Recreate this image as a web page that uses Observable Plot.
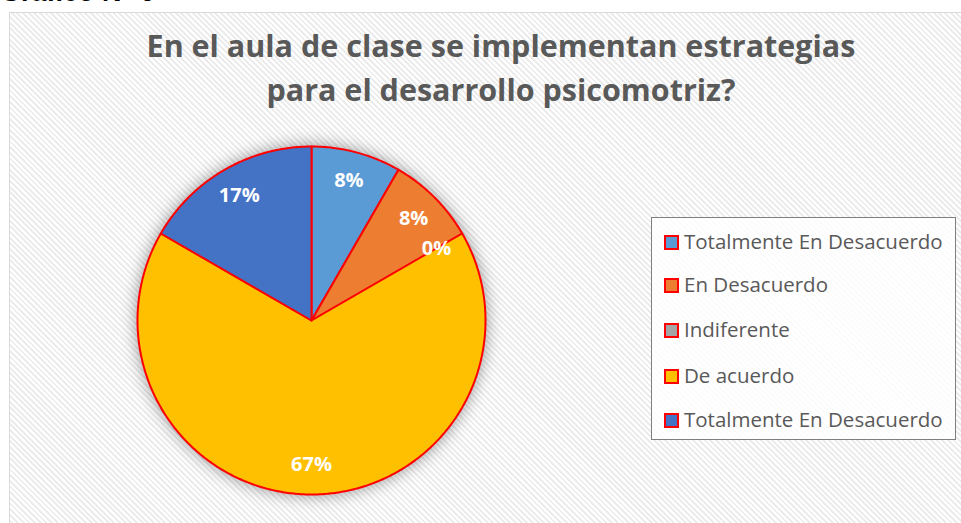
<!DOCTYPE html>
<html>
<head>
<meta charset="utf-8">
<script src="https://cdn.jsdelivr.net/npm/d3@7"></script>
<script src="https://cdn.jsdelivr.net/npm/@observablehq/plot@0.6"></script>
<style>
  body { margin: 0; background: #fff; }
  #wrap { position: relative; width: 961px; height: 523px; overflow: hidden; font-family: "Open Sans", sans-serif; }
  #frame { position: absolute; left: 9px; top: 12px; width: 980px; height: 540px; border: 1px solid #d9d9d9;
    background: repeating-linear-gradient(45deg, #ffffff 0px, #ffffff 2px, #ececec 2px, #ececec 4px); }
  #chart { position: absolute; left: 0; top: 0; }
  #top { position: absolute; left: 0; top: -23px; font: bold 27px "Liberation Sans", Arial, sans-serif; color: #000; white-space: nowrap; }
  #title { position: absolute; left: 0; width: 1002px; top: 23px; text-align: center; font-weight: 700; font-size: 30.5px; line-height: 44px; color: #595959; }
  #legend { position: absolute; left: 651px; top: 217px; width: 305px; height: 223px; border: 1.5px solid #7f7f7f; background: rgba(255,255,255,0.85); box-sizing: border-box; }
  .item { position: absolute; left: 12px; font-size: 20.5px; color: #595959; white-space: nowrap; }
  .sw { display: inline-block; width: 11px; height: 11px; border: 2px solid #ff0000; vertical-align: -1px; margin-right: 5px; }
</style>
</head>
<body>
<div id="wrap">
  <div id="frame"></div>
  <div id="top">Gráfico N° 6</div>
  <div id="chart"></div>
  <div id="title">En el aula de clase se implementan estrategias<br>para el desarrollo psicomotriz?</div>
  <div id="legend"></div>
</div>
<script>
const categories = ["Totalmente En Desacuerdo", "En Desacuerdo", "Indiferente", "De acuerdo", "Totalmente En Desacuerdo"];
const values = [1, 1, 0, 8, 2];
const labels = ["8%", "8%", "0%", "67%", "17%"];
const colors = ["#5b9bd5", "#ed7d31", "#a5a5a5", "#ffc000", "#4472c4"];

const ids = categories.map((_, i) => String(i));
const pie = d3.pie().sort(null).value(d => d)(values);

// slice polygons in unit coordinates (clockwise from top)
const pts = [];
pie.forEach((p, i) => {
  if (p.endAngle - p.startAngle <= 0) return;
  const n = Math.max(2, Math.ceil((p.endAngle - p.startAngle) / 0.01));
  pts.push({id: ids[i], x: 0, y: 0});
  for (let k = 0; k <= n; k++) {
    const a = p.startAngle + (p.endAngle - p.startAngle) * k / n;
    pts.push({id: ids[i], x: Math.sin(a), y: Math.cos(a)});
  }
  pts.push({id: ids[i], x: 0, y: 0});
});
const lab = pie.map((p, i) => {
  const a = (p.startAngle + p.endAngle) / 2;
  const r = 0.83;
  return {label: labels[i], x: r * Math.sin(a), y: r * Math.cos(a)};
});

const chart = Plot.plot({
  width: 961,
  height: 523,
  marginLeft: 137,
  marginRight: 476,
  marginTop: 146,
  marginBottom: 29,
  x: {domain: [-1, 1], axis: null},
  y: {domain: [-1, 1], axis: null},
  color: {domain: ids, range: colors},
  style: {background: "transparent", overflow: "visible"},
  marks: [
    Plot.line(pts, {x: "x", y: "y", z: "id", fill: "id", stroke: "#ff0000", strokeWidth: 2, strokeLinejoin: "round", curve: "linear"}),
    Plot.text(lab, {x: "x", y: "y", text: "label", fill: "white", fontSize: 20, fontWeight: "bold", fontFamily: "Open Sans"})
  ]
});
chart.querySelector("g[aria-label='line']").style.filter = "drop-shadow(0px 0px 8px rgba(0,0,0,0.4))";
document.getElementById("chart").appendChild(chart);

const legend = document.getElementById("legend");
const ys = [9, 52, 97, 143, 187];
categories.forEach((c, i) => {
  const d = document.createElement("div");
  d.className = "item";
  d.style.top = ys[i] + "px";
  d.innerHTML = `<span class="sw" style="background:${colors[i]}"></span>${c}`;
  legend.appendChild(d);
});
</script>
</body>
</html>
